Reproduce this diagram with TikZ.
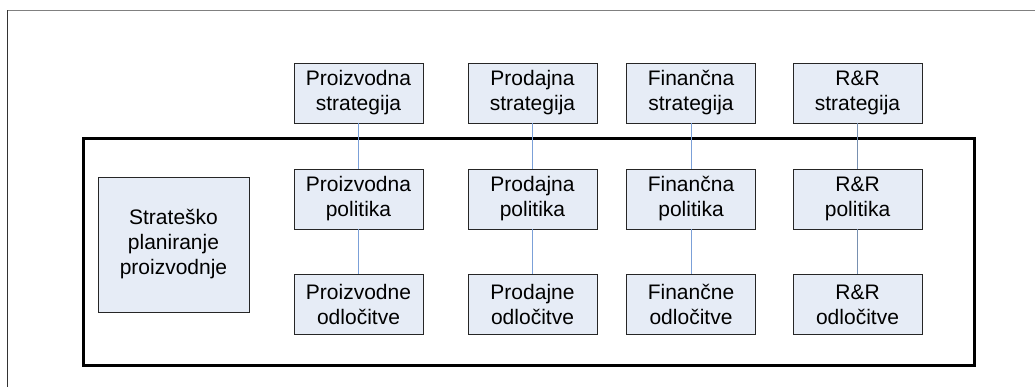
\documentclass[tikz,border=0pt]{standalone}
\usepackage{fontspec}
\setmainfont{Liberation Sans}
\begin{document}
\begin{tikzpicture}[x=1pt,y=-1pt,
  boxfill/.style={draw=black!85,line width=0.9pt,fill=boxblue,
    align=center,inner sep=0pt,font=\fontsize{21}{25}\selectfont},
  unit/.style={boxfill,minimum width=129pt,minimum height=60pt},
  link/.style={draw=linkblue,line width=0.9pt},
  linkg/.style={draw=linkgray,line width=0.9pt}]
\definecolor{boxblue}{HTML}{E6ECF6}
\definecolor{linkblue}{HTML}{7BA0D8}
\definecolor{linkgray}{HTML}{7890B0}
\useasboundingbox (0,0) rectangle (1035,387);
% page frame (top and left edges)
\draw[gray,line width=1pt] (1035,10.5) -- (7.5,10.5);
\draw[black!80,line width=1pt] (7.5,10.5) -- (7.5,387);
% production planning frame
\draw[black,line width=3pt] (83,139) rectangle (974,365);
% left block
\node[boxfill,minimum width=151pt,minimum height=135pt] (sp) at (173.5,244.5) {Strateško\\planiranje\\proizvodnje};
% strategies
\node[unit] (s1) at (358.5,93) {Proizvodna\\strategija};
\node[unit] (s2) at (532.5,93) {Prodajna\\strategija};
\node[unit] (s3) at (691,93) {Finančna\\strategija};
\node[unit] (s4) at (857.5,93) {R\&R\\strategija};
% policies
\node[unit] (p1) at (358.5,199) {Proizvodna\\politika};
\node[unit] (p2) at (532.5,199) {Prodajna\\politika};
\node[unit] (p3) at (691,199) {Finančna\\politika};
\node[unit] (p4) at (857.5,199) {R\&R\\politika};
% decisions
\node[unit] (d1) at (358.5,304.5) {Proizvodne\\odločitve};
\node[unit] (d2) at (532.5,304.5) {Prodajne\\odločitve};
\node[unit] (d3) at (691,304.5) {Finančne\\odločitve};
\node[unit] (d4) at (857.5,304.5) {R\&R\\odločitve};
% connectors
\draw[link] (s1) -- (p1) (p1) -- (d1);
\draw[link] (s2) -- (p2) (p2) -- (d2);
\draw[link] (s3) -- (p3) (p3) -- (d3);
\draw[linkg] (s4) -- (p4) (p4) -- (d4);
\end{tikzpicture}
\end{document}
